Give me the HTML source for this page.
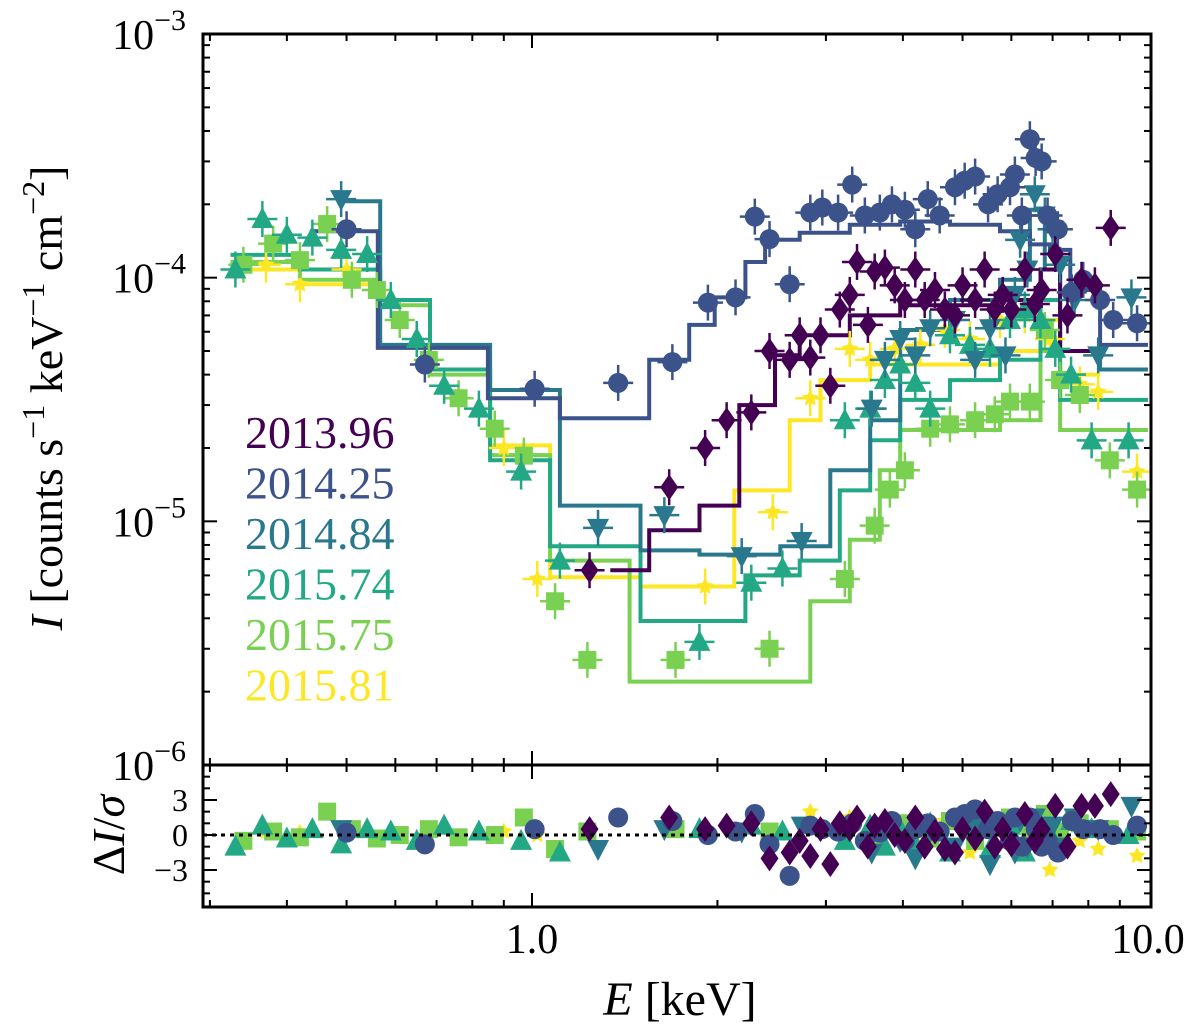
<!DOCTYPE html>
<html><head><meta charset="utf-8"><style>
body{margin:0;background:#fff;}
svg{display:block;font-family:"Liberation Serif",serif;}
</style></head><body>
<svg id="chart" width="1200" height="1036" viewBox="0 0 1200 1036" xmlns="http://www.w3.org/2000/svg">
<g id="models"></g>
<g id="points"></g>
<g id="resid"></g>
<g id="axes"></g>
</svg>
<script>
// ---- data ----
const seriesNames = ["2013.96","2014.25","2014.84","2015.74","2015.75","2015.81"];
const seriesColors = ["#440154","#3b528b","#2a788e","#22a884","#7ad151","#fde725"];
const seriesMarkers = ["diamond","circle","tdown","tup","square","star"];

const e1396 = [1.24,1.67,1.91,2.07,2.27,2.43,2.62,2.72,2.83,2.94,3.05,3.16,3.28,3.37,3.51,3.60,3.74,3.88,4.03,4.19,4.34,4.51,4.68,4.86,5.0,5.24,5.43,5.64,5.81,6.0,6.31,6.55,6.72,7.07,7.4,7.8,8.2,8.7];
const i1396 = [6.3e-6,1.38e-5,2.0e-5,2.6e-5,2.8e-5,5.0e-5,4.6e-5,5.8e-5,4.7e-5,5.8e-5,3.6e-5,7.4e-5,8.5e-5,1.16e-4,6.4e-5,1.06e-4,1.1e-4,9.3e-5,8.1e-5,1.08e-4,8.1e-5,8.9e-5,7.4e-5,7.0e-5,9.3e-5,8.1e-5,1.08e-4,7.4e-5,8.5e-5,7.4e-5,1.08e-4,7.8e-5,8.9e-5,1.25e-4,7.0e-5,9.8e-5,9.3e-5,1.6e-4];
const r1396 = [0.5,1.5,0.5,0.8,1.0,-2.0,-1.5,-0.5,-1.8,0.5,-2.5,1.0,0.5,1.5,-1.0,0.8,1.2,0.0,-0.5,1.5,-1.0,0.3,-1.2,-1.5,0.5,-0.3,2.0,-1.0,0.5,-0.8,1.8,-0.5,0.5,2.5,-1.0,2.5,2.5,3.5];

const e1425 = [0.50,0.67,1.01,1.38,1.69,1.93,2.14,2.30,2.43,2.62,2.83,2.96,3.14,3.31,3.47,3.67,3.84,4.03,4.19,4.39,4.59,4.86,5.04,5.24,5.50,5.70,5.97,6.08,6.24,6.43,6.57,6.72,6.87,7.14,7.52,7.85,8.36,8.78,9.6];
const i1425 = [1.58e-4,4.4e-5,3.5e-5,3.7e-5,4.5e-5,7.9e-5,8.3e-5,1.78e-4,1.44e-4,9.4e-5,1.85e-4,1.94e-4,1.85e-4,2.41e-4,1.8e-4,1.85e-4,2.0e-4,1.9e-4,1.58e-4,2.1e-4,1.8e-4,2.35e-4,2.5e-4,2.6e-4,2.0e-4,2.2e-4,2.35e-4,2.65e-4,1.8e-4,3.7e-4,3.1e-4,3.0e-4,1.8e-4,1.58e-4,8.7e-5,9.8e-5,8.1e-5,6.7e-5,6.5e-5];
const r1425 = [0.2,-0.8,0.5,1.5,1.2,0.0,0.3,1.8,-0.8,-3.5,0.8,0.5,0.3,1.0,-0.5,0.2,1.2,-0.5,0.5,1.0,0.3,1.5,1.8,2.2,0.5,1.2,-0.5,1.5,-1.0,1.5,0.5,-1.0,-0.5,-1.5,1.2,0.5,0.5,0.0,0.8];

const e1484 = [0.49,1.28,1.64,2.19,2.74,3.56,3.74,3.96,4.19,4.43,4.86,5.24,5.54,5.87,6.08,6.2,6.37,6.55,6.8,7.0,7.2,7.6,8.3,9.4];
const i1484 = [2.1e-4,9.4e-6,1.06e-5,7.2e-6,8.3e-6,2.9e-5,4.6e-5,5.6e-5,4.8e-5,6.2e-5,6.7e-5,4.6e-5,6.2e-5,4.8e-5,8.5e-5,1.43e-4,1.08e-4,2.2e-4,1.8e-4,1.58e-4,1.13e-4,8.1e-5,4.8e-5,8.3e-5];
const r1484 = [0.5,-1.2,0.5,0.3,0.8,-1.5,0.5,-0.5,-2.0,0.3,-1.0,0.8,-2.5,0.5,-1.5,1.2,-1.0,1.5,-0.5,0.8,-1.0,1.5,0.5,2.5];

const e1574 = [0.33,0.365,0.40,0.44,0.49,0.54,0.59,0.65,0.72,0.82,0.96,1.11,1.87,2.27,2.55,3.22,3.54,3.74,3.96,4.19,4.43,4.77,5.14,5.54,5.97,6.31,6.69,7.07,7.5,8.1,9.3];
const i1574 = [1.08e-4,1.74e-4,1.5e-4,1.46e-4,1.3e-4,1.25e-4,8.1e-5,5.6e-5,3.6e-5,2.9e-5,1.6e-5,6.9e-6,3.2e-6,5.6e-6,6.4e-6,2.6e-5,2.9e-5,3.8e-5,4.4e-5,3.7e-5,2.9e-5,5.8e-5,5.3e-5,5.1e-5,6.7e-5,7.4e-5,6.7e-5,5.1e-5,4.0e-5,2.15e-5,2.15e-5];
const r1574 = [-1.0,0.8,-0.3,0.5,-0.8,0.5,0.3,-0.5,0.8,0.3,-0.5,-1.5,0.5,0.8,0.3,-0.5,0.8,-1.0,0.5,-0.8,1.0,-1.5,0.5,-1.2,0.8,-1.5,0.3,-0.8,1.2,0.5,0.0];

const e1575 = [0.34,0.38,0.42,0.465,0.51,0.56,0.61,0.68,0.76,0.87,0.97,1.09,1.23,1.71,2.43,3.22,3.6,3.81,4.03,4.43,4.77,5.24,5.64,5.97,6.43,6.8,7.2,7.75,8.67,9.6];
const i1575 = [1.13e-4,1.38e-4,1.18e-4,1.66e-4,9.8e-5,8.9e-5,6.7e-5,4.6e-5,3.2e-5,2.4e-5,1.86e-5,4.7e-6,2.7e-6,2.7e-6,3.0e-6,5.8e-6,9.6e-6,1.35e-5,1.62e-5,2.4e-5,2.5e-5,2.6e-5,2.75e-5,3.1e-5,3.1e-5,6.1e-5,3.8e-5,3.3e-5,1.78e-5,1.35e-5];
const r1575 = [-0.5,0.3,-0.2,2.0,0.5,-0.3,0.0,0.5,-0.2,0.0,1.5,-1.2,0.3,0.5,0.3,0.8,-0.5,0.5,1.0,-0.3,1.2,-0.5,0.8,1.5,0.5,1.8,0.3,1.0,0.5,0.3];

const e1581 = [0.37,0.42,0.50,0.90,1.02,1.91,2.46,2.83,3.28,3.54,3.88,4.27,4.68,5.14,5.75,6.31,6.93,7.75,8.3,9.6];
const i1581 = [1.13e-4,9.4e-5,1.08e-4,2.0e-5,5.8e-6,5.4e-6,1.09e-5,3.2e-5,5.1e-5,4.6e-5,5.1e-5,5.3e-5,6.1e-5,5.6e-5,6.7e-5,7.0e-5,5.6e-5,3.65e-5,3.4e-5,1.6e-5];
const r1581 = [0.3,0.2,0.5,0.3,0.0,0.5,-0.5,2.0,1.5,-0.5,0.5,-1.0,1.2,-1.5,0.8,1.0,-3.0,-0.5,-1.2,-1.8];

// step models: edges (keV) and levels
const m1396E = [1.34,1.55,1.87,2.17,2.48,2.72,3.28,3.96,5.75,6.69,7.2,8.36];
const m1396I = [6.3e-6,9.2e-6,1.16e-5,3.0e-5,4.8e-5,5.8e-5,7.0e-5,7.7e-5,8.1e-5,1.08e-4,5.0e-5];
const m1425E = [0.436,0.562,0.848,1.11,1.55,1.80,1.98,2.22,2.39,2.72,3.28,3.96,4.77,5.75,6.43,6.93,7.48,8.36,10];
const m1425I = [1.55e-4,5.15e-5,3.2e-5,2.65e-5,4.6e-5,6.4e-5,8.3e-5,1.16e-4,1.43e-4,1.53e-4,1.65e-4,1.7e-4,1.65e-4,1.55e-4,1.37e-4,1.3e-4,8.9e-5,5.3e-5];
const m1484E = [0.488,0.567,0.855,1.11,1.50,1.87,2.53,3.05,3.54,3.96,4.77,5.75,6.43,6.8,7.2,8.36,10];
const m1484I = [2.06e-4,5.3e-5,3.46e-5,1.16e-5,7.6e-6,7.3e-6,7.9e-6,1.62e-5,2.6e-5,6.1e-5,8.1e-5,9.8e-5,1.9e-4,1.08e-4,5.0e-5,4.2e-5];
const m1574E = [0.324,0.42,0.567,0.683,0.855,1.07,1.50,2.22,2.72,3.16,3.54,3.96,4.77,5.75,6.69,7.2,10];
const m1574I = [1.24e-4,1.08e-4,8.1e-5,4.2e-5,1.78e-5,7.9e-6,3.9e-6,6.0e-6,6.9e-6,1.34e-5,2.15e-5,3.15e-5,3.8e-5,4.6e-5,8.1e-5,3.15e-5];
const m1575E = [0.324,0.42,0.567,0.683,0.855,1.07,1.44,2.83,3.28,3.67,3.96,5.75,6.69,7.2,10];
const m1575I = [1.16e-4,9.8e-5,7.7e-5,4.0e-5,1.87e-5,6.9e-6,2.2e-6,4.7e-6,8.4e-6,1.62e-5,2.37e-5,2.6e-5,5.0e-5,2.37e-5];
const m1581E = [0.324,0.42,0.567,0.683,0.855,1.07,1.50,2.13,2.62,2.94,3.54,5.75,6.69,7.2,8.36];
const m1581I = [1.08e-4,9.4e-5,8.1e-5,4.2e-5,2.05e-5,5.9e-6,5.4e-6,1.34e-5,2.6e-5,3.8e-5,4.4e-5,5.0e-5,6.7e-5,4.0e-5];

const yTickLabels = ["-3","-4","-5","-6"];
const xTickLabels = ["1.0","10.0"];
const rTicks = [3,0,-3];

// ---- axes functions ----
const L=203,R=1151,T=34,B=765,RB=907;
const X0=532, DEC=616;
function xs(e){return X0+Math.log10(e)*DEC;}
function ys(v){return T+(-3-Math.log10(v))*(B-T)/3;}
const R0=835, RU=11.67;
function yr(v){return R0-v*RU;}
const NS="http://www.w3.org/2000/svg";
function mk(tag,attrs,parent){const el=document.createElementNS(NS,tag);for(const k in attrs)el.setAttribute(k,attrs[k]);parent.appendChild(el);return el;}

const models=document.getElementById('models'),pts=document.getElementById('points'),res=document.getElementById('resid'),axes=document.getElementById('axes');

const allE=[e1396,e1425,e1484,e1574,e1575,e1581];
const allI=[i1396,i1425,i1484,i1574,i1575,i1581];
const allR=[r1396,r1425,r1484,r1574,r1575,r1581];
const allME=[m1396E,m1425E,m1484E,m1574E,m1575E,m1581E];
const allMI=[m1396I,m1425I,m1484I,m1574I,m1575I,m1581I];

function marker(type,x,y,c,parent){
  let el;const s=10;
  if(type==="circle") el=mk('circle',{cx:x,cy:y,r:s,fill:c},parent);
  else if(type==="square") el=mk('rect',{x:x-9,y:y-9,width:18,height:18,fill:c},parent);
  else if(type==="diamond") el=mk('polygon',{points:`${x},${y-13} ${x+9},${y} ${x},${y+13} ${x-9},${y}`,fill:c},parent);
  else if(type==="tup") el=mk('polygon',{points:`${x},${y-12} ${x+11},${y+9} ${x-11},${y+9}`,fill:c},parent);
  else if(type==="tdown") el=mk('polygon',{points:`${x},${y+12} ${x+11},${y-9} ${x-11},${y-9}`,fill:c},parent);
  else { let p=[];for(let k=0;k<10;k++){const a=-Math.PI/2+k*Math.PI/5;const rr=k%2?4.5:9;p.push((x+rr*Math.cos(a)).toFixed(1)+","+(y+rr*Math.sin(a)).toFixed(1));}
    el=mk('polygon',{points:p.join(' '),fill:c},parent);}
  return el;
}

const order=[5,4,3,2,1,0];
order.forEach(s=>{
  const c=seriesColors[s];
  const g=mk('g',{},models);
  
  
  const E=allME[s],I=allMI[s];let d='';
  for(let k=0;k<I.length;k++){d+=(k?'L':'M')+xs(E[k]).toFixed(1)+','+ys(I[k]).toFixed(1)+'L'+xs(E[k+1]).toFixed(1)+','+ys(I[k]).toFixed(1);}
  mk('path',{d:d,fill:'none',stroke:c,'stroke-width':4},g);
});
order.forEach(s=>{
  const c=seriesColors[s];
  const g=mk('g',{},pts);
  
  
  const gr=mk('g',{},res);
  
  
  allE[s].forEach((e,k)=>{
    const x=xs(e),y=ys(allI[s][k]);
    mk('line',{x1:x,x2:x,y1:y-18,y2:y+18,stroke:c,'stroke-width':2.5},g);
    mk('line',{x1:x-15,x2:x+15,y1:y,y2:y,stroke:c,'stroke-width':2.5},g);
    const m=marker(seriesMarkers[s],x,y,c,g);
    
    
    const rv=allR[s][k]!==undefined?allR[s][k]:0;
    const mr=marker(seriesMarkers[s],x,yr(rv),c,gr);
    
    
  });
});
mk('rect',{x:0,y:0,width:L-1,height:1036,fill:'#fff'},axes);
mk('rect',{x:R+1,y:0,width:60,height:1036,fill:'#fff'},axes);
const zl=mk('line',{x1:L,x2:R,y1:R0,y2:R0,stroke:'#000','stroke-width':3,'stroke-dasharray':'4,5'},axes);


mk('rect',{x:L,y:T,width:R-L,height:B-T,fill:'none',stroke:'#000','stroke-width':3},axes);
mk('rect',{x:L,y:B,width:R-L,height:RB-B,fill:'none',stroke:'#000','stroke-width':3},axes);
for(let dec=-6;dec<-3;dec++){for(let m=1;m<10;m++){const v=m*Math.pow(10,dec);const y=ys(v);const len=m===1?14:7;
  mk('line',{x1:L,x2:L+len,y1:y,y2:y,stroke:'#000','stroke-width':2},axes);
  mk('line',{x1:R,x2:R-len,y1:y,y2:y,stroke:'#000','stroke-width':2},axes);}}
yTickLabels.forEach((t,k)=>{const y=ys(Math.pow(10,-3-k));
  const tx=mk('text',{x:186,y:y+15,'text-anchor':'end','font-size':42},axes);
  
  
  tx.innerHTML='10<tspan dy="-19" font-size="30">−'+t.slice(1)+'</tspan>';});
for(let dec=-1;dec<1;dec++){for(let m=1;m<10;m++){const v=m*Math.pow(10,dec);const x=xs(v);if(x<L||x>R)continue;const len=m===1?14:7;
  mk('line',{x1:x,x2:x,y1:T,y2:T+len,stroke:'#000','stroke-width':2},axes);
  mk('line',{x1:x,x2:x,y1:B,y2:B-len,stroke:'#000','stroke-width':2},axes);
  mk('line',{x1:x,x2:x,y1:B,y2:B+len,stroke:'#000','stroke-width':2},axes);
  mk('line',{x1:x,x2:x,y1:RB,y2:RB-len,stroke:'#000','stroke-width':2},axes);}}
xTickLabels.forEach((t,k)=>{const x=xs(Math.pow(10,k));
  const tx=mk('text',{x:x,y:953,'text-anchor':'middle','font-size':42},axes);
  
  
  tx.textContent=t;});
for(let v=-6;v<=6;v++){const y=yr(v);if(y<B+2||y>RB-2)continue;const len=v%3===0?14:7;
  mk('line',{x1:L,x2:L+len,y1:y,y2:y,stroke:'#000','stroke-width':2},axes);
  mk('line',{x1:R,x2:R-len,y1:y,y2:y,stroke:'#000','stroke-width':2},axes);}
rTicks.forEach(v=>{const tx=mk('text',{x:188,y:yr(v)+11,'text-anchor':'end','font-size':32},axes);
  
  
  tx.textContent=v<0?'−'+(-v):String(v);});
const lg=mk('g',{},axes);


seriesNames.forEach((n,k)=>{const tx=mk('text',{x:245,y:448+k*50.5,'font-size':46,fill:seriesColors[k]},lg);
  
  
  tx.textContent=n;});
const xl=mk('text',{x:680,y:1015,'text-anchor':'middle','font-size':48},axes);


xl.innerHTML='<tspan font-style="italic">E</tspan> [keV]';
const yl=mk('text',{x:0,y:0,'text-anchor':'middle','font-size':46,transform:'translate(62,398) rotate(-90)'},axes);


yl.innerHTML='<tspan font-style="italic">I</tspan> [counts s<tspan dy="-18" font-size="32">−1</tspan><tspan dy="18"> keV</tspan><tspan dy="-18" font-size="32">−1</tspan><tspan dy="18"> cm</tspan><tspan dy="-18" font-size="32">−2</tspan><tspan dy="18">]</tspan>';
const rl=mk('text',{x:0,y:0,'text-anchor':'middle','font-size':46,transform:'translate(124,835) rotate(-90)'},axes);


rl.innerHTML='Δ<tspan font-style="italic">I</tspan>/<tspan font-style="italic">σ</tspan>';
</script>
</body></html>
